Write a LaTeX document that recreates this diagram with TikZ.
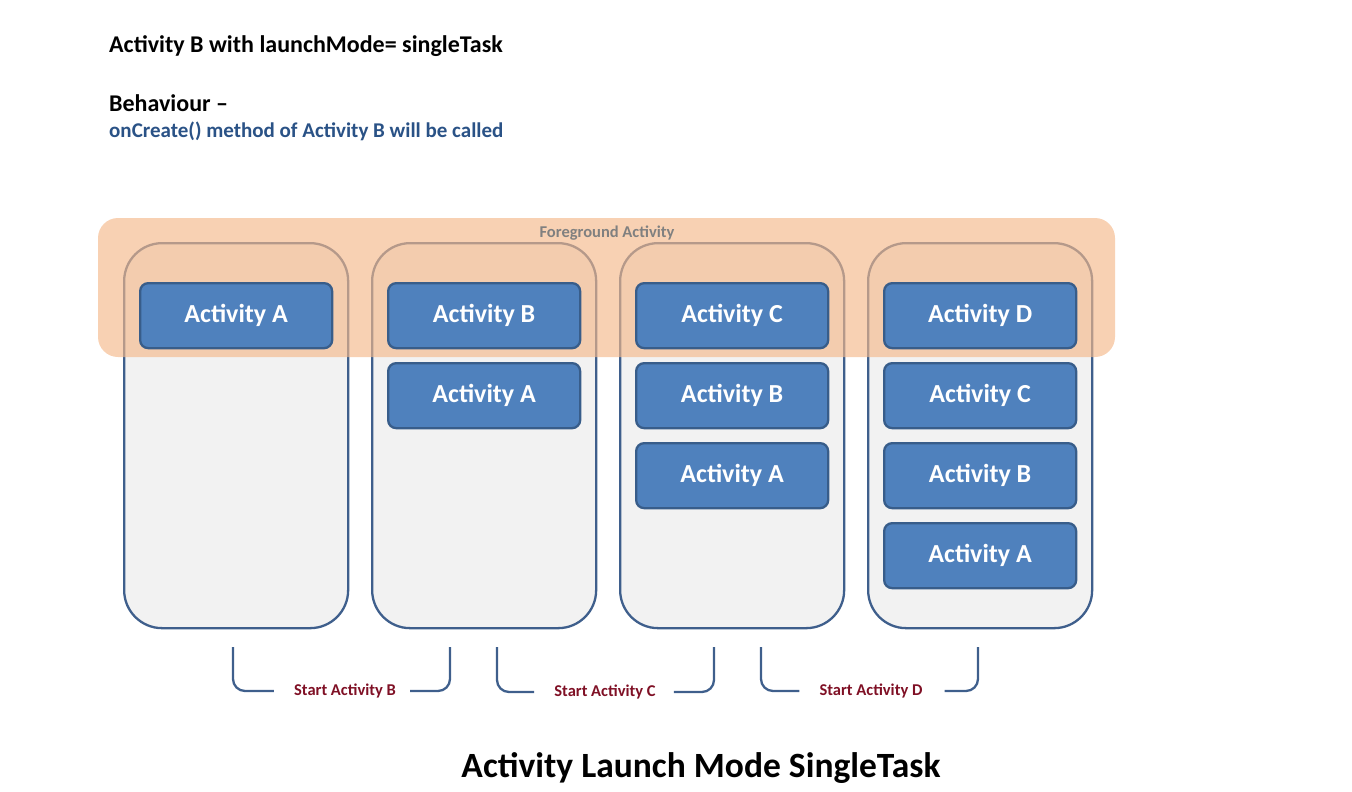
\documentclass[tikz,border=0pt]{standalone}
\usepackage{fontspec}
\setmainfont{Carlito}
\definecolor{boxfill}{HTML}{4F81BD}
\definecolor{boxline}{HTML}{385D8A}
\definecolor{contfill}{HTML}{F2F2F2}
\definecolor{contline}{HTML}{3F5F8C}
\definecolor{bandfill}{HTML}{F5B98A}
\definecolor{subblue}{HTML}{2A5286}
\definecolor{startred}{HTML}{7F1025}
\definecolor{fglabel}{HTML}{808080}
\begin{document}
\begin{tikzpicture}[x=1pt,y=-1pt,
  container/.style={draw=contline,fill=contfill,line width=2.3pt,rounded corners=38pt,minimum width=224pt,minimum height=385pt,anchor=north west,inner sep=0pt},
  actbox/.style={draw=boxline,fill=boxfill,line width=2.3pt,rounded corners=8pt,minimum width=192pt,minimum height=65pt,anchor=north west,inner sep=0pt,text=white,font=\bfseries\fontsize{26}{30}\selectfont},
  bracket/.style={draw=contline,line width=2.3pt,rounded corners=12pt},
  startlbl/.style={text=startred,font=\bfseries\fontsize{16.5}{19}\selectfont,inner sep=0pt},
  band/.style={fill=bandfill,fill opacity=0.65,draw=none,rounded corners=20pt}
]
\useasboundingbox (0,0) rectangle (1352,792);
% header texts
\node[anchor=base west,inner sep=0pt,font=\bfseries\fontsize{24}{28}\selectfont] (h1) at (109,53) {Activity B with launchMode= singleTask};
\node[anchor=base west,inner sep=0pt,font=\bfseries\fontsize{24}{28}\selectfont] (h2) at (109,111) {Behaviour –};
\node[anchor=base west,inner sep=0pt,text=subblue,font=\bfseries\fontsize{21}{25}\selectfont] (h3) at (109,137) {onCreate() method of Activity B will be called};
% containers
\node[container] (c1) at (123,242) {};
\node[container] (c2) at (371,242) {};
\node[container] (c3) at (619,242) {};
\node[container] (c4) at (867,242) {};
% foreground band
\path[band] (98,218) rectangle (1115,357);
\node[text=fglabel,font=\bfseries\fontsize{16.5}{19}\selectfont,inner sep=0pt] (fg) at (607,233) {Foreground Activity};
% activity boxes
\node[actbox] (a1a) at (139,282) {Activity A};
\node[actbox] (a2b) at (387,282) {Activity B};
\node[actbox] (a2a) at (387,362) {Activity A};
\node[actbox] (a3c) at (635,282) {Activity C};
\node[actbox] (a3b) at (635,362) {Activity B};
\node[actbox] (a3a) at (635,442) {Activity A};
\node[actbox] (a4d) at (883,282) {Activity D};
\node[actbox] (a4c) at (883,362) {Activity C};
\node[actbox] (a4b) at (883,442) {Activity B};
\node[actbox] (a4a) at (883,522) {Activity A};
% brackets
\node[startlbl] (s1) at (345,691) {Start Activity B};
\node[startlbl] (s2) at (605,692) {Start Activity C};
\node[startlbl] (s3) at (871,691) {Start Activity D};
\coordinate (b1l) at (233,647); \coordinate (b1r) at (450,647);
\coordinate (b2l) at (497,647); \coordinate (b2r) at (714,647);
\coordinate (b3l) at (761,647); \coordinate (b3r) at (978,647);
\path[bracket] (b1l) |- ([xshift=-20pt]s1.west);
\path[bracket] (b1r) |- ([xshift=14pt]s1.east);
\path[bracket] (b2l) |- ([xshift=-20pt]s2.west);
\path[bracket] (b2r) |- ([xshift=18pt]s2.east);
\path[bracket] (b3l) |- ([xshift=-20pt]s3.west);
\path[bracket] (b3r) |- ([xshift=22pt]s3.east);
% bottom title
\node[font=\bfseries\fontsize{35.5}{42}\selectfont,inner sep=0pt] (title) at (701,768) {Activity Launch Mode SingleTask};
\end{tikzpicture}
\end{document}
